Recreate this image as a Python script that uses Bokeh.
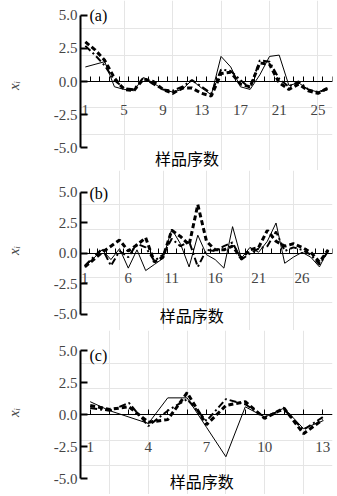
from bokeh.plotting import figure
from bokeh.layouts import column
from bokeh.models import FixedTicker, LinearAxis, Label, Range1d, PrintfTickFormatter
from bokeh.embed import file_html
from bokeh.resources import INLINE

# ---------------- data ----------------
y_ticks = [-5.0, -2.5, 0.0, 2.5, 5.0]
x_title = "样品序数"
y_title = "xᵢ"

# panel (a): 26 samples
a_x = list(range(1, 27))
a_labels = [1, 5, 9, 13, 17, 21, 25]
a_thin = [1.1, 1.3, 1.5, -0.4, -0.6, -0.7, 0.3, -0.1, -0.6, -0.8, -0.6, 0.1, -0.5, -1.0,
          1.9, 1.1, -0.4, -0.6, 0.5, 1.9, 2.0, -0.3, -0.1, -0.6, -0.8, -0.5]
a_dash = [3.0, 2.4, 1.6, 0.25, -0.6, -0.7, 0.2, 0.0, -0.6, -0.9, -0.5, -0.5, -0.9, -1.1,
          0.6, 0.7, -0.2, -0.4, 1.4, 1.3, -0.1, -0.6, -0.2, -0.7, -0.9, -0.5]
a_dot = [2.7, 2.0, 1.2, 0.1, -0.5, -0.6, 0.3, -0.2, -0.6, -0.7, -0.4, 0.1, -0.4, -0.9,
         0.9, 0.8, 0.1, -0.5, 1.6, 1.5, 0.2, -0.4, 0.0, -0.6, -0.8, -0.6]

# panel (b): 29 samples
b_x = list(range(1, 30))
b_labels = [1, 6, 11, 16, 21, 26]
b_thin = [-1.1, -0.4, 0.3, -0.5, 0.4, -1.2, 0.3, -1.4, -0.9, -0.4, 2.0, 0.8, -1.1, 1.5,
          -0.1, -0.5, -1.2, 2.2, -0.4, 0.5, 0.1, 1.0, 2.5, -0.8, -0.3, 0.1, -0.3, -1.1, 0.3]
b_dash = [-1.1, -0.5, 0.1, 0.6, 1.1, 0.2, 0.7, 1.3, -0.7, -0.3, 1.9, 1.4, 0.7, 4.0,
          1.0, 0.3, 0.3, 0.6, -0.4, 0.3, 0.5, 1.9, 1.0, 0.6, 0.8, 0.5, 0.1, -0.7, 0.3]
b_dot = [-1.0, -0.3, 0.4, -1.0, 0.2, -0.3, 0.8, 0.5, -0.6, -0.1, 1.2, 0.6, 1.0, -1.1,
         0.3, 0.2, 0.6, 0.9, -0.5, 0.0, 0.4, 0.6, 1.8, 0.2, 0.5, 0.3, -0.1, -0.9, 0.2]

# panel (c): 13 samples
c_x = list(range(1, 14))
c_labels = [1, 4, 7, 10, 13]
c_thin = [1.0, 0.3, -0.2, -0.7, 1.3, 1.3, -1.0, -3.3, 0.6, -0.2, 0.5, -1.1, -0.5]
c_dash = [0.7, 0.4, 0.6, -0.6, -0.4, 1.7, -0.8, 0.7, 1.0, -0.3, 0.5, -1.5, -0.4]
c_dot = [0.5, 0.3, 0.9, -0.9, 0.3, 1.2, -0.5, 1.2, 0.8, -0.2, 0.4, -1.2, -0.2]

SERIF = "Liberation Serif"
CJK = "Noto Sans CJK SC"


def panel(xs, thin, dash, dot, labels, letter, height, left, ylo, yhi,
          label_standoff, title_x, title_y, letter_y, minor_half=True):
    n = len(xs)
    x0, x1 = 0.5, n + 0.5
    p = figure(width=335, height=height, x_range=Range1d(x0, x1), y_range=Range1d(ylo, yhi),
               output_backend="svg", toolbar_location=None,
               x_axis_location=None, y_axis_location=None,
               min_border_left=left, min_border_right=3,
               min_border_top=0, min_border_bottom=0)
    p.outline_line_color = None
    p.background_fill_color = "white"

    yax = LinearAxis(ticker=FixedTicker(ticks=y_ticks), bounds=(-5, 5),
                     formatter=PrintfTickFormatter(format="%.1f"),
                     axis_label=y_title)
    yax.axis_line_width = 2
    yax.major_tick_in = 7
    yax.major_tick_out = 0
    yax.major_tick_line_width = 2
    yax.minor_tick_line_color = None
    yax.major_label_standoff = 3
    yax.major_label_text_font = SERIF
    yax.major_label_text_font_size = "15px"
    yax.axis_label_text_font = SERIF
    yax.axis_label_text_font_style = "italic"
    yax.axis_label_text_font_size = "15px"
    yax.axis_label_standoff = 29
    p.add_layout(yax, "left")

    if minor_half:
        minor = [i + 0.5 for i in range(0, n + 1)]
    else:
        minor = list(xs)
    xax = LinearAxis(fixed_location=0, ticker=FixedTicker(ticks=labels, minor_ticks=minor))
    xax.axis_line_width = 1.2
    xax.major_tick_in = 0
    xax.major_tick_out = 0
    xax.minor_tick_in = 5
    xax.minor_tick_out = 0
    xax.major_label_standoff = label_standoff
    xax.major_label_text_font = SERIF
    xax.major_label_text_font_size = "15px"
    p.add_layout(xax, "below")

    p.line(xs, dot, line_color="black", line_width=2, line_dash="7 3 2 3")
    p.line(xs, dash, line_color="black", line_width=3, line_dash="5 3")
    p.line(xs, thin, line_color="black", line_width=1)

    p.add_layout(Label(x=x0, y=letter_y, x_offset=9, text=letter,
                       text_baseline="middle", text_font=SERIF,
                       text_font_size="16px", text_color="black"))
    p.add_layout(Label(x=title_x, y=title_y, text=x_title,
                       text_align="center", text_baseline="middle", text_font=CJK,
                       text_font_size="16px", text_color="black"))
    return p


pa = panel(a_x, a_thin, a_dash, a_dot, a_labels, "(a)", 170, 77, -6.742, 6.136,
           23, 11.5, -5.76, 5.0)
pb = panel(b_x, b_thin, b_dash, b_dot, b_labels, "(b)", 160, 80, -6.312, 6.803,
           20, 13.3, -5.08, 4.9)
pc = panel(c_x, c_thin, c_dash, c_dot, c_labels, "(c)", 164, 80, -6.25, 6.5625,
           27, 6.75, -5.16, 4.6, minor_half=False)

layout = column(pa, pb, pc)
open("out.html", "w").write(file_html(layout, INLINE))
